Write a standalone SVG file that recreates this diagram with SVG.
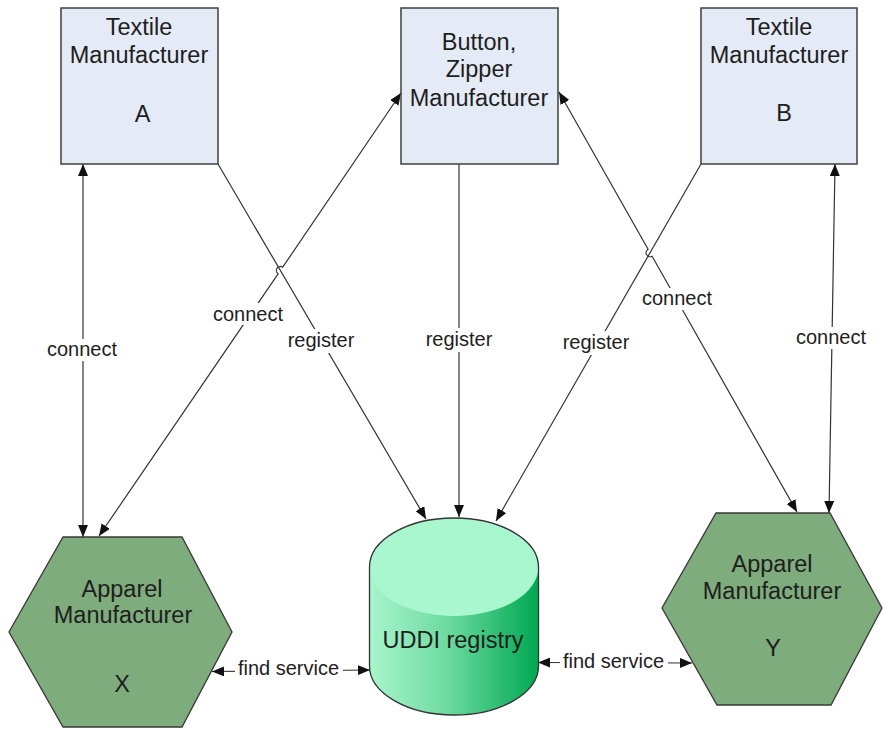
<svg xmlns="http://www.w3.org/2000/svg" width="883" height="730" viewBox="0 0 883 730">
<style>
.box{fill:#e5ebf6;stroke:#404040;stroke-width:1.5}
.hex{fill:#7fac7c;stroke:#383838;stroke-width:1.3}
.nt{font-family:"Liberation Sans",Arial,sans-serif;font-size:23.5px;fill:#1e1e1e;text-anchor:middle}
.lt{font-family:"Liberation Sans",Arial,sans-serif;font-size:20px;fill:#1e1e1e;text-anchor:middle}
.ln{fill:none;stroke:#333;stroke-width:1.2}
.bg{fill:#fff}
</style>
<defs>
<marker id="ah" viewBox="0 0 12 10" refX="12" refY="5" markerWidth="12" markerHeight="10" markerUnits="userSpaceOnUse" orient="auto-start-reverse">
<path d="M0,0 L12,5 L0,10 z" fill="#111"/>
</marker>
<linearGradient id="cylBody" x1="0" y1="0" x2="1" y2="0">
<stop offset="0" stop-color="#a8f5cc"/>
<stop offset="0.45" stop-color="#6fdba0"/>
<stop offset="1" stop-color="#00a852"/>
</linearGradient>
</defs>

<g id="connectors">
<path class="ln" d="M83,164 L83,537" marker-start="url(#ah)" marker-end="url(#ah)"/>
<path class="ln" d="M99,536 L278.1,273.8 A4,4 0 0 1 282.7,267.2 L401,93" marker-start="url(#ah)" marker-end="url(#ah)"/>
<path class="ln" d="M218,164 L426,519" marker-end="url(#ah)"/>
<path class="ln" d="M459,164 L459,517" marker-end="url(#ah)"/>
<path class="ln" d="M701,164 L496,521" marker-end="url(#ah)"/>
<path class="ln" d="M559,92 L648.1,249.2 A4,4 0 0 0 652.1,256.2 L797,512" marker-start="url(#ah)" marker-end="url(#ah)"/>
<path class="ln" d="M835,164 L829,513" marker-start="url(#ah)" marker-end="url(#ah)"/>
<path class="ln" d="M212,671.5 L370,670" marker-start="url(#ah)" marker-end="url(#ah)"/>
<path class="ln" d="M538,662.5 L692,663" marker-start="url(#ah)" marker-end="url(#ah)"/>

<rect class="bg" x="46" y="339" width="74" height="22"/>
<text class="lt" x="82" y="356">connect</text>
<rect class="bg" x="211" y="303" width="74" height="22"/>
<text class="lt" x="248" y="321">connect</text>
<rect class="bg" x="286" y="329" width="70" height="24"/>
<text class="lt" x="321" y="347">register</text>
<rect class="bg" x="424" y="328" width="70" height="24"/>
<text class="lt" x="459" y="346">register</text>
<rect class="bg" x="561" y="331" width="70" height="24"/>
<text class="lt" x="596" y="349">register</text>
<rect class="bg" x="640" y="288" width="74" height="22"/>
<text class="lt" x="677" y="305">connect</text>
<rect class="bg" x="794" y="327" width="74" height="22"/>
<text class="lt" x="831" y="344">connect</text>
<rect class="bg" x="235" y="659" width="108" height="22"/>
<text class="lt" x="288.5" y="675">find service</text>
<rect class="bg" x="560" y="652" width="108" height="22"/>
<text class="lt" x="613.5" y="668">find service</text>
</g>

<g id="textileA">
<rect class="box" x="61" y="8" width="157" height="156"/>
<text class="nt" x="139" y="35">Textile</text>
<text class="nt" x="139" y="63">Manufacturer</text>
<text class="nt" x="142.5" y="122">A</text>
</g>

<g id="buttonZipper">
<rect class="box" x="401" y="8" width="157" height="156"/>
<text class="nt" x="479" y="50">Button,</text>
<text class="nt" x="479" y="77">Zipper</text>
<text class="nt" x="479" y="106">Manufacturer</text>
</g>

<g id="textileB">
<rect class="box" x="701" y="8" width="156" height="156"/>
<text class="nt" x="779" y="35">Textile</text>
<text class="nt" x="779" y="63">Manufacturer</text>
<text class="nt" x="784" y="121">B</text>
</g>

<g id="apparelX">
<polygon class="hex" points="63,537 182,537 232,632 182,727 63,727 9,632"/>
<text class="nt" x="122" y="597">Apparel</text>
<text class="nt" x="123" y="623">Manufacturer</text>
<text class="nt" x="122" y="692">X</text>
</g>

<g id="uddi">
<path d="M369.5,567 L369.5,666 A84.5,49 0 0 0 538.5,666 L538.5,567 A84.5,49 0 0 0 369.5,567 Z" fill="url(#cylBody)"/>
<ellipse cx="454" cy="567" rx="84.5" ry="49" fill="#a8f7cf"/>
<path d="M369.5,567 L369.5,666 A84.5,49 0 0 0 538.5,666 L538.5,567 A84.5,49 0 0 0 369.5,567 Z" fill="none" stroke="#333" stroke-width="1.3"/>
<text class="nt" x="453" y="648">UDDI registry</text>
</g>

<g id="apparelY">
<polygon class="hex" points="716,513 830,513 882,608 831,705 717,705 662,608"/>
<text class="nt" x="772" y="572">Apparel</text>
<text class="nt" x="772" y="599">Manufacturer</text>
<text class="nt" x="773" y="656">Y</text>
</g>
</svg>
